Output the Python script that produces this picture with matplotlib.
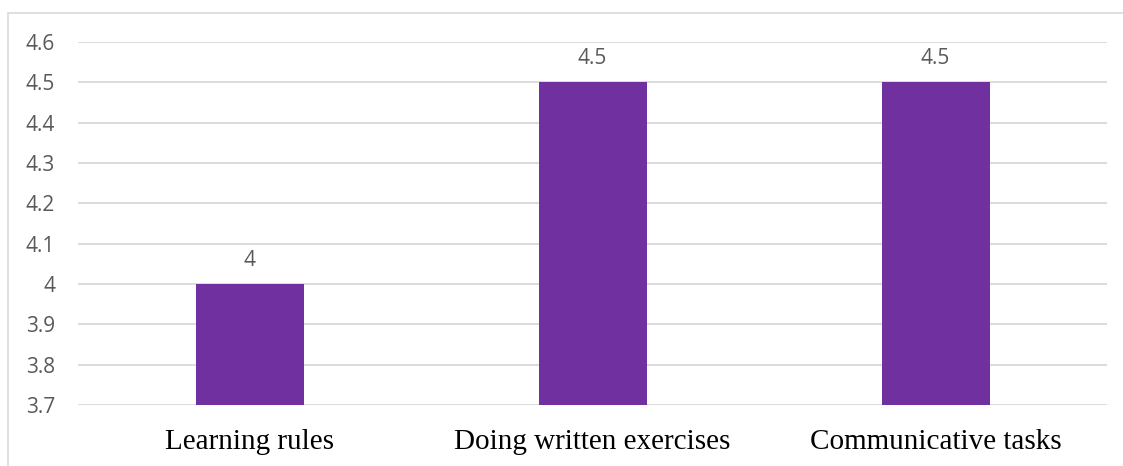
import matplotlib.pyplot as plt
from matplotlib.patches import Rectangle

# activity ratings
categorias = ["Learning rules", "Doing written exercises", "Communicative tasks"]
valores = [4.0, 4.5, 4.5]
etiquetas = ["4", "4.5", "4.5"]
marcas_y = [3.7, 3.8, 3.9, 4.0, 4.1, 4.2, 4.3, 4.4, 4.5, 4.6]
textos_y = ["3.7", "3.8", "3.9", "4", "4.1", "4.2", "4.3", "4.4", "4.5", "4.6"]

MORADO = "#7030A0"
GRIS_TEXTO = "#595959"
GRIS_REJILLA = "#D9D9D9"

fig = plt.figure(figsize=(11.23, 4.66), dpi=100)
ax = fig.add_axes([0.0695, 0.1309, 0.9163, 0.779])

# marco del grafico
fig.patches.append(Rectangle((8 / 1123, -0.1), 1.2, 1 - 13 / 466 + 0.1,
                             transform=fig.transFigure, fill=False,
                             edgecolor=GRIS_REJILLA, linewidth=1.2))

x = range(len(categorias))
barras = ax.bar(x, valores, width=0.315, color=MORADO, zorder=3)
ax.set_xlim(-0.5, len(categorias) - 0.5)
ax.set_ylim(3.7, 4.6)

for b, txt in zip(barras, etiquetas):
    ax.annotate(txt, (b.get_x() + b.get_width() / 2, b.get_height()),
                xytext=(0, 13), textcoords="offset points", ha="center",
                va="baseline", fontsize=15, color=GRIS_TEXTO,
                family="Open Sans")

ax.set_yticks(marcas_y)
ax.set_yticklabels(textos_y, fontsize=15, color=GRIS_TEXTO, family="Open Sans")
ax.set_xticks(list(x))
ax.set_xticklabels(categorias, fontsize=21, color="black",
                   family="Liberation Serif")
ax.tick_params(axis="both", length=0)
ax.tick_params(axis="y", pad=16.5)
ax.tick_params(axis="x", pad=17.5)

ax.grid(axis="y", color=GRIS_REJILLA, linewidth=1.3, zorder=0)
for lado in ax.spines.values():
    lado.set_visible(False)

fig.savefig("out.png", dpi=100)
